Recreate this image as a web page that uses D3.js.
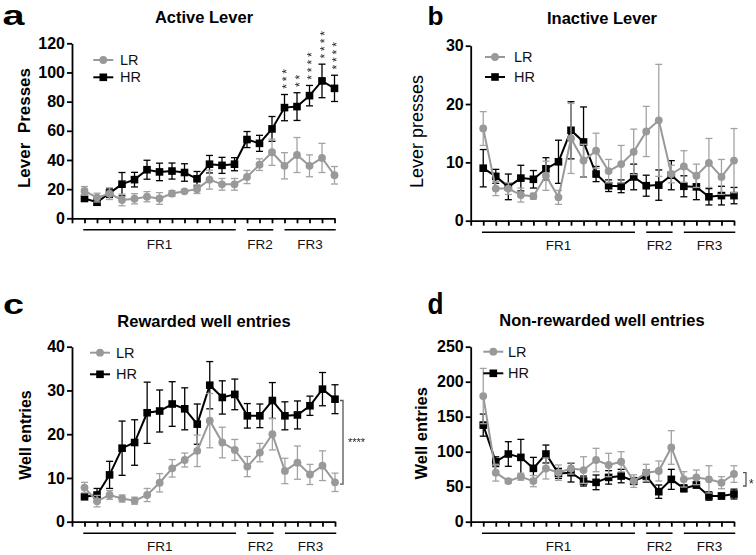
<!DOCTYPE html>
<html><head><meta charset="utf-8">
<script src="https://cdn.jsdelivr.net/npm/d3@7"></script>
<style>body{margin:0;background:#fff}svg{display:block}text{font-family:"Liberation Sans",Arial,Helvetica,sans-serif}</style>
</head><body><svg id="chart" width="756" height="555"></svg>
<script>
// ---------- data ----------
const sessions = [1,2,3,4,5,6,7,8,9,10,11,12,13,14,15,16,17,18,19,20,21];
const xTicks = [0,1,2,3,4,5,6,7,8,9,10,11,12,13,14,15,16,17,18,19,20,21];
const seriesNames = ["LR","HR"];
const phaseLabels = ["FR1","FR2","FR3"];
const phaseStart = [0.9, 14, 17];
const phaseEnd = [13.1, 16.1, 21.1];

// a: Active lever
const activeTicks = [0,20,40,60,80,100,120];
const activeLR    = [18.8,14.2,16.9,12.6,13.4,14.8,13.6,17.0,18.5,20.0,26.5,23.3,23.3,28.3,36.8,45.3,36.0,43.4,36.0,41.4,29.5];
const activeLRsem = [3,3,4,4,3.5,3.5,4,2,1,3,6.5,4,4,4.5,4,9,9,12,7.5,10,6];
const activeHR    = [13.6,11.0,17.3,23.4,26.5,33.3,31.8,32.4,31.4,27.1,37.1,36.3,37.1,54.0,51.4,61.3,75.9,76.6,84.1,94.2,89.1];
const activeHRsem = [2,2,3,8,5,6.5,6,5.5,6,5,6,5.5,4.5,5.5,5.5,8.5,9,9.5,7,11.5,9];
const activeStars = ["","","","","","","","","","","","","","","","","***","**","****","****","****"];

// b: Inactive lever
const inactiveTicks = [0,10,20,30];
const inactiveLR    = [15.8,5.5,5.5,4.4,4.2,7.7,4.0,14.1,10.3,12.0,8.5,9.7,11.8,15.3,17.2,8.0,9.3,7.7,9.9,7.5,10.3];
const inactiveLRsem = [2.9,1.2,1.0,1.2,0.5,2.5,1.2,6.0,2.8,3.0,2.0,3.2,3.9,4.3,9.6,1.5,2.7,2.0,4.2,3.0,5.5];
const inactiveHR    = [9.0,7.6,5.8,7.3,7.1,8.9,10.1,15.5,13.5,8.0,6.0,5.9,7.5,6.0,6.1,7.8,5.9,5.8,4.1,4.3,4.3];
const inactiveHRsem = [3.2,1.2,2.2,2.2,1.5,1.9,3.7,4.9,6.0,1.3,1.0,1.1,2.2,1.8,2.6,2.5,1.8,2.2,1.4,1.6,1.4];

// c: Rewarded well entries
const rewardedTicks = [0,10,20,30,40];
const rewardedLR    = [7.8,4.7,6.1,5.3,4.8,6.1,8.9,12.2,14.1,16.2,23.1,18.1,16.4,12.6,15.8,20.0,11.6,13.5,10.8,12.8,9.0];
const rewardedLRsem = [1.2,1.3,1.0,0.8,0.8,1.5,2.1,2.0,1.6,3.6,6.2,3.5,2.4,2.3,2.1,3.6,2.9,3.8,2.3,3.4,2.1];
const rewardedHR    = [5.7,6.1,10.7,16.8,18.1,24.9,25.3,26.9,25.8,22.3,31.2,28.4,29.1,24.2,24.2,27.7,24.2,24.4,26.5,30.3,28.0];
const rewardedHRsem = [0.6,1.5,3.1,6.2,5.2,7.0,4.8,5.1,4.8,4.6,5.4,3.8,3.5,2.8,2.7,4.1,3.2,3.2,2.2,3.8,3.3];

// d: Non-rewarded well entries
const nonRewardedTicks = [0,50,100,150,200,250];
const nonRewardedLR    = [179.5,70,58,64.3,58,76,70,76,73.8,88.1,81,85.7,58,70,72.4,106,60.5,63.3,60.5,55.7,68.1];
const nonRewardedLRsem = [39.5,12,3,5,8,15,11,8,19,16.7,16.7,14.3,9,12,14.3,24,11,10.5,19.5,8.6,11.9];
const nonRewardedHR    = [138,85.7,96.7,91.9,76.2,96.7,69,70,58.1,56.2,63.3,65.2,58.1,65.2,42.9,60.5,47.6,52.4,36.7,36.7,39.5];
const nonRewardedHRsem = [15.8,7,17.6,25.7,15.7,12.8,7.2,13.3,7.1,10.5,9.6,9.6,5,8.6,9.5,14.3,5,4,6,4,7];

// ---------- drawing ----------
const svg = d3.select("#chart");
svg.append("rect").attr("width",756).attr("height",555).attr("fill","#fff");
const defs = svg.append("defs");
defs.append("filter").attr("id","gray").attr("x","-50%").attr("y","-50%").attr("width","200%").attr("height","200%")
  .append("feColorMatrix").attr("type","saturate").attr("values",0);

const GRAY = "#999999", GRAY_ERR = "#a3a3a3", BLACK = "#000";

function drawPanel(p) {
  const g = svg.append("g");
  const x = d3.scaleLinear().domain([0,21]).range([p.x0, p.x1]);
  const y = d3.scaleLinear().domain([0, p.ymax]).range([p.y0, p.y1]);

  const ya = g.append("g").attr("transform",`translate(${p.x0},0)`)
    .call(d3.axisLeft(y).tickValues(p.ticks).tickSize(5).tickSizeOuter(0).tickPadding(2).tickFormat(d3.format("d")));
  const xa = g.append("g").attr("transform",`translate(0,${p.y0})`)
    .call(d3.axisBottom(x).tickValues(xTicks).tickSize(5).tickSizeOuter(0).tickFormat(""));
  [ya, xa].forEach(a => {
    a.select(".domain").attr("stroke",BLACK).attr("stroke-width",1.8);
    a.selectAll(".tick line").attr("stroke",BLACK).attr("stroke-width",1.8);
  });
  ya.selectAll(".tick text").attr("font-size",16).attr("font-weight","bold").attr("fill",BLACK)
    .attr("font-family",'"Liberation Sans",Arial,sans-serif');

  phaseLabels.forEach((lab,i) => {
    g.append("line").attr("x1",x(phaseStart[i])).attr("x2",x(phaseEnd[i]))
      .attr("y1",p.y0+11.5).attr("y2",p.y0+11.5).attr("stroke",BLACK).attr("stroke-width",1.6);
    g.append("text").attr("x",x((phaseStart[i]+phaseEnd[i])/2)).attr("y",p.y0+p.frDy)
      .attr("text-anchor","middle").attr("font-size",13.5).attr("fill","#111").text(lab);
  });

  const series = [
    {name:"HR", vals:p.hr, sem:p.hrSem, color:BLACK, err:BLACK, shape:"square"},
    {name:"LR", vals:p.lr, sem:p.lrSem, color:GRAY, err:GRAY_ERR, shape:"circle"}
  ];
  series.forEach(s => {
    const pts = sessions.map((d,i)=>({x:d, v:s.vals[i], e:s.sem[i]}));
    const eg = g.append("g").attr("stroke",s.err).attr("stroke-width",1.3).attr("fill","none");
    pts.forEach(d => {
      const xc = x(d.x), yt = y(d.v+d.e), yb = y(Math.max(0,d.v-d.e));
      eg.append("line").attr("x1",xc).attr("x2",xc).attr("y1",yt).attr("y2",yb);
      eg.append("line").attr("x1",xc-3.5).attr("x2",xc+3.5).attr("y1",yt).attr("y2",yt);
      eg.append("line").attr("x1",xc-3.5).attr("x2",xc+3.5).attr("y1",yb).attr("y2",yb);
    });
    g.append("path").datum(pts).attr("fill","none").attr("stroke",s.color).attr("stroke-width",2)
      .attr("d", d3.line().x(d=>x(d.x)).y(d=>y(d.v)));
    const sym = d3.symbol().type(s.shape==="square"?d3.symbolSquare:d3.symbolCircle).size(s.shape==="square"?58:48);
    g.selectAll(null).data(pts).join("path")
      .attr("transform",d=>`translate(${x(d.x)},${y(d.v)})`).attr("d",sym()).attr("fill",s.color);
  });

  const leg = [
    {name:seriesNames[0], color:GRAY, shape:"circle", y:p.legY[0]},
    {name:seriesNames[1], color:BLACK, shape:"square", y:p.legY[1]}
  ];
  leg.forEach(l => {
    g.append("line").attr("x1",p.legX-10).attr("x2",p.legX+10).attr("y1",l.y).attr("y2",l.y)
      .attr("stroke",l.color).attr("stroke-width",2);
    const sym = d3.symbol().type(l.shape==="square"?d3.symbolSquare:d3.symbolCircle).size(l.shape==="square"?58:48);
    g.append("path").attr("transform",`translate(${p.legX},${l.y})`).attr("d",sym()).attr("fill",l.color);
    g.append("text").attr("x",p.legTx).attr("y",l.y+5).attr("font-size",14.5).attr("fill","#111").text(l.name);
  });

  g.append("text").attr("x",p.titleX).attr("y",p.titleY).attr("text-anchor","middle")
    .attr("font-size",16.5).attr("font-weight","bold").text(p.title);
  g.append("text").attr("x",p.letX).attr("y",p.letY).attr("font-size",p.letSize).attr("font-weight","bold")
    .attr("textLength",p.letW).attr("lengthAdjust","spacingAndGlyphs").text(p.letter);
  g.append("text").attr("transform",`translate(${p.ylabX},${p.ylabY}) rotate(-90)`).attr("text-anchor","middle")
    .attr("font-size",p.ylabSize).attr("font-weight",p.ylabWeight)
    .style("white-space","pre").text(p.ylab);

  return {x, y, g};
}

// Panel a
const A = drawPanel({x0:72, x1:334.5, y0:218.3, y1:43.3, ymax:120, ticks:activeTicks,
  lr:activeLR, lrSem:activeLRsem, hr:activeHR, hrSem:activeHRsem, frDy:31,
  legX:103.3, legY:[60,77.3], legTx:120, title:"Active Lever", titleX:204, titleY:23,
  letter:"a", letSize:27, letX:2.5, letY:24.5, letW:22, ylab:"Lever  Presses", ylabX:30, ylabY:128, ylabSize:17, ylabWeight:"bold"});
// significance stars: one vertical text column per session (grayscale filter avoids colour fringes)
const starLayer = A.g.append("g").attr("filter","url(#gray)");
sessions.forEach((s,i) => {
  const stars = activeStars[i];
  if (!stars) return;
  const bottom = A.y(activeHR[i]+activeHRsem[i]) - 8;   // centre of lowest star
  starLayer.append("text")
    .attr("transform",`translate(${A.x(s)},${bottom}) rotate(-90)`)
    .attr("x",-2.3).attr("y",6.9)
    .attr("font-size",12).attr("letter-spacing",2.9).attr("fill","#222").text(stars);
});

// Panel b
drawPanel({x0:470.7, x1:734, y0:220.7, y1:45.7, ymax:30, ticks:inactiveTicks,
  lr:inactiveLR, lrSem:inactiveLRsem, hr:inactiveHR, hrSem:inactiveHRsem, frDy:29.5,
  legX:495, legY:[57,77], legTx:514, title:"Inactive Lever", titleX:602, titleY:24,
  letter:"b", letSize:25, letX:427.5, letY:24.5, letW:16, ylab:"Lever presses", ylabX:423, ylabY:131.5, ylabSize:18, ylabWeight:"normal"});

// Panel c
const C = drawPanel({x0:72, x1:335, y0:521.7, y1:346.7, ymax:40, ticks:rewardedTicks,
  lr:rewardedLR, lrSem:rewardedLRsem, hr:rewardedHR, hrSem:rewardedHRsem, frDy:29.5,
  legX:100, legY:[352.7,374.3], legTx:116, title:"Rewarded well entries", titleX:204, titleY:327,
  letter:"c", letSize:28, letX:3, letY:313.5, letW:21, ylab:"Well entries", ylabX:30.5, ylabY:435, ylabSize:16, ylabWeight:"bold"});
C.g.append("path").attr("d",`M${C.x(21)+5},${C.y(27.7)}H${C.x(21)+8}V${C.y(8.6)}H${C.x(21)+5}`)
  .attr("fill","none").attr("stroke","#555").attr("stroke-width",1.3);
C.g.append("g").attr("filter","url(#gray)").append("text").attr("x",348).attr("y",446)
  .attr("font-size",11).attr("fill","#222").text("****");

// Panel d
const D = drawPanel({x0:470.7, x1:734, y0:521.7, y1:346.7, ymax:250, ticks:nonRewardedTicks,
  lr:nonRewardedLR, lrSem:nonRewardedLRsem, hr:nonRewardedHR, hrSem:nonRewardedHRsem, frDy:29.5,
  legX:493.3, legY:[351.7,373.3], legTx:508, title:"Non-rewarded well entries", titleX:602, titleY:325.7,
  letter:"d", letSize:29, letX:427.5, letY:314, letW:16, ylab:"Well entries", ylabX:426.5, ylabY:433.3, ylabSize:16.5, ylabWeight:"bold"});
D.g.append("path").attr("d",`M${D.x(21)+9},${D.y(70)}H${D.x(21)+12}V${D.y(51)}H${D.x(21)+9}`)
  .attr("fill","none").attr("stroke","#555").attr("stroke-width",1.3);
D.g.append("g").attr("filter","url(#gray)").append("text").attr("x",749).attr("y",488)
  .attr("font-size",12).attr("fill","#222").text("*");
</script></body></html>
